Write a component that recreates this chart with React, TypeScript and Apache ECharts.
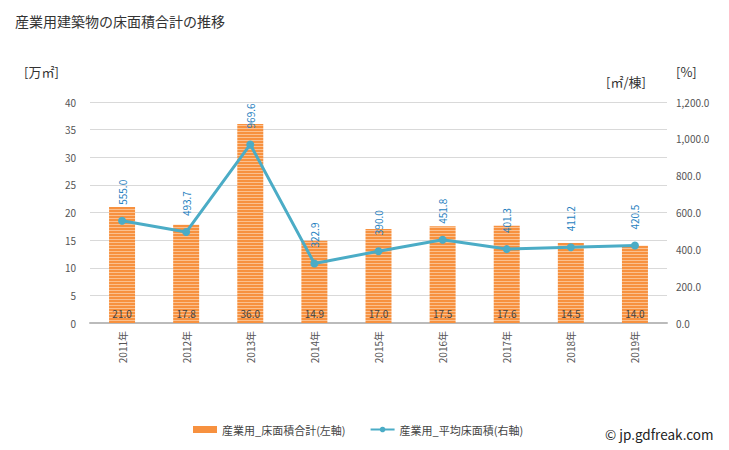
import React, { useEffect, useRef } from "react";
import * as echarts from "echarts";

const categories = ["2011年", "2012年", "2013年", "2014年", "2015年", "2016年", "2017年", "2018年", "2019年"];
const totalArea = [21.0, 17.8, 36.0, 14.9, 17.0, 17.5, 17.6, 14.5, 14.0];
const avgArea = [555.0, 493.7, 969.6, 322.9, 390.0, 451.8, 401.3, 411.2, 420.5];

const FONT = "'Noto Sans CJK JP', 'Noto Sans', sans-serif";

function makePattern() {
  const c = document.createElement("canvas");
  c.width = 4;
  c.height = 3;
  const ctx = c.getContext("2d")!;
  ctx.fillStyle = "#fbc08e";
  ctx.fillRect(0, 0, 4, 3);
  ctx.fillStyle = "#f7913f";
  ctx.fillRect(0, 0, 4, 2);
  return c;
}

export default function App() {
  const ref = useRef<HTMLDivElement>(null);
  useEffect(() => {
    const chart = echarts.init(ref.current!, undefined, { renderer: "svg" });
    const pattern = { image: makePattern(), repeat: "repeat" };
    chart.setOption({
      animation: false,
      textStyle: { fontFamily: FONT },
      graphic: [
        { type: "text", left: 15, top: 14, style: { text: "産業用建築物の床面積合計の推移", fontSize: 14, fill: "#333", fontFamily: FONT } },
        { type: "text", left: 24, top: 65, style: { text: "[万㎡]", fontSize: 13, fill: "#333", fontFamily: FONT } },
        { type: "text", left: 606, top: 75, style: { text: "[㎡/棟]", fontSize: 13, fill: "#333", fontFamily: FONT } },
        { type: "text", left: 676, top: 65, style: { text: "[%]", fontSize: 13, fill: "#333", fontFamily: FONT } },
        { type: "text", left: 605, top: 427, style: { text: "© jp.gdfreak.com", fontSize: 13.5, fill: "#222", fontFamily: FONT } },
      ],
      legend: {
        bottom: 10,
        left: 188,
        itemGap: 24,
        itemTextGap: 3,
        itemWidth: 24,
        itemHeight: 7,
        textStyle: { fontSize: 11, color: "#444", fontFamily: FONT },
        data: [
          { name: "産業用_床面積合計(左軸)", icon: "rect", itemStyle: { color: "#f7913f" } },
          { name: "産業用_平均床面積(右軸)" },
        ],
      },
      grid: { left: 90, right: 62, top: 102, bottom: 127 },
      xAxis: {
        type: "category",
        data: categories,
        axisLine: { lineStyle: { color: "#bbb", width: 2 } },
        axisTick: { show: false },
        axisLabel: { rotate: 90, fontSize: 10, color: "#555", margin: 8 },
      },
      yAxis: [
        {
          type: "value",
          min: 0,
          max: 40,
          interval: 5,
          axisLine: { show: false },
          axisTick: { show: false },
          axisLabel: { fontSize: 10, color: "#555", margin: 14 },
          splitLine: { lineStyle: { color: "#d9d9d9" } },
        },
        {
          type: "value",
          min: 0,
          max: 1200,
          interval: 200,
          axisLine: { show: false },
          axisTick: { show: false },
          axisLabel: {
            fontSize: 10,
            color: "#555",
            margin: 9,
            formatter: (v: number) => v.toLocaleString("en-US", { minimumFractionDigits: 1, maximumFractionDigits: 1 }),
          },
          splitLine: { show: false },
        },
      ],
      series: [
        {
          name: "産業用_床面積合計(左軸)",
          type: "bar",
          data: totalArea,
          barWidth: 26,
          itemStyle: { color: pattern },
          label: {
            show: true,
            position: "insideBottom",
            distance: 5,
            fontSize: 10,
            color: "#444",
            formatter: (p: any) => p.value.toFixed(1),
          },
        },
        {
          name: "産業用_平均床面積(右軸)",
          type: "line",
          yAxisIndex: 1,
          data: avgArea,
          symbol: "circle",
          symbolSize: 8,
          lineStyle: { color: "#4bacc6", width: 3 },
          itemStyle: { color: "#4bacc6" },
          label: {
            show: true,
            position: "top",
            rotate: 90,
            align: "left",
            verticalAlign: "middle",
            distance: 12,
            fontSize: 10,
            color: "#1f7fc0",
            formatter: (p: any) => p.value.toFixed(1),
          },
        },
      ],
    });
    return () => chart.dispose();
  }, []);
  return <div ref={ref} style={{ width: 729, height: 450, position: "absolute", left: 0, top: 0 }} />;
}
